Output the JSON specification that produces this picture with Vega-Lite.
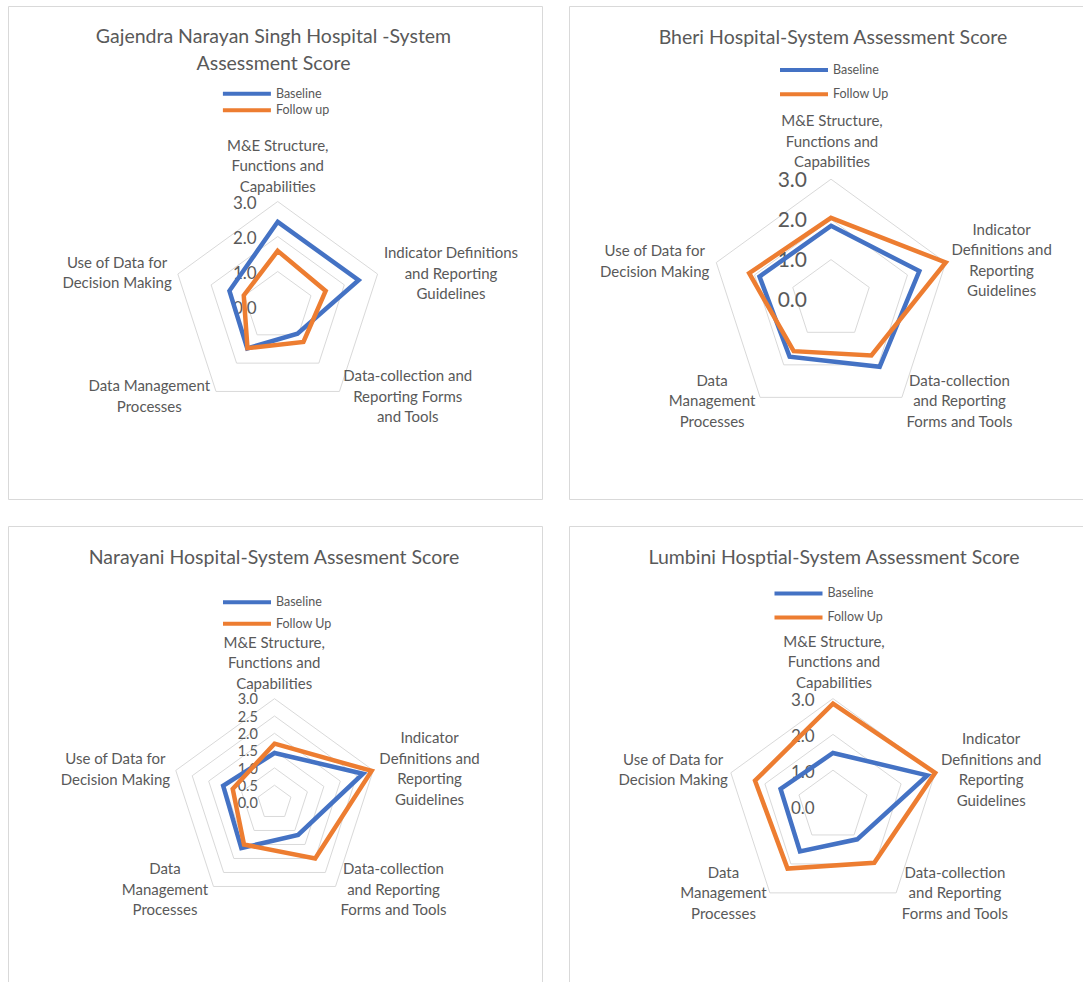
{
  "$schema": "https://vega.github.io/schema/vega-lite/v6.json",
  "padding": {"left": 7, "top": 5, "right": 0, "bottom": 0},
  "background": "white",
  "config": {
    "view": {"stroke": "#D9D9D9", "strokeWidth": 1},
    "title": {"font": "Lato", "fontSize": 19.5, "fontWeight": "normal", "color": "#595959", "anchor": "middle", "frame": "group", "baseline": "top"},
    "text": {"font": "Lato", "color": "#595959"}
  },
  "datasets": {
    "scores": [
      {"hospital": "GNS", "series": "Baseline", "k": 0, "score": 2.42},
      {"hospital": "GNS", "series": "Baseline", "k": 1, "score": 2.43},
      {"hospital": "GNS", "series": "Baseline", "k": 2, "score": 0.96},
      {"hospital": "GNS", "series": "Baseline", "k": 3, "score": 1.48},
      {"hospital": "GNS", "series": "Baseline", "k": 4, "score": 1.45},
      {"hospital": "GNS", "series": "Follow up", "k": 0, "score": 1.59},
      {"hospital": "GNS", "series": "Follow up", "k": 1, "score": 1.44},
      {"hospital": "GNS", "series": "Follow up", "k": 2, "score": 1.25},
      {"hospital": "GNS", "series": "Follow up", "k": 3, "score": 1.47},
      {"hospital": "GNS", "series": "Follow up", "k": 4, "score": 1.02},
      {"hospital": "Bheri", "series": "Baseline", "k": 0, "score": 1.84},
      {"hospital": "Bheri", "series": "Baseline", "k": 1, "score": 2.31},
      {"hospital": "Bheri", "series": "Baseline", "k": 2, "score": 2.06},
      {"hospital": "Bheri", "series": "Baseline", "k": 3, "score": 1.75},
      {"hospital": "Bheri", "series": "Baseline", "k": 4, "score": 1.87},
      {"hospital": "Bheri", "series": "Follow Up", "k": 0, "score": 2.04},
      {"hospital": "Bheri", "series": "Follow Up", "k": 1, "score": 3.0},
      {"hospital": "Bheri", "series": "Follow Up", "k": 2, "score": 1.71},
      {"hospital": "Bheri", "series": "Follow Up", "k": 3, "score": 1.58},
      {"hospital": "Bheri", "series": "Follow Up", "k": 4, "score": 2.14},
      {"hospital": "Narayani", "series": "Baseline", "k": 0, "score": 1.43},
      {"hospital": "Narayani", "series": "Baseline", "k": 1, "score": 2.69},
      {"hospital": "Narayani", "series": "Baseline", "k": 2, "score": 1.16},
      {"hospital": "Narayani", "series": "Baseline", "k": 3, "score": 1.63},
      {"hospital": "Narayani", "series": "Baseline", "k": 4, "score": 1.56},
      {"hospital": "Narayani", "series": "Follow Up", "k": 0, "score": 1.70},
      {"hospital": "Narayani", "series": "Follow Up", "k": 1, "score": 2.95},
      {"hospital": "Narayani", "series": "Follow Up", "k": 2, "score": 2.0},
      {"hospital": "Narayani", "series": "Follow Up", "k": 3, "score": 1.50},
      {"hospital": "Narayani", "series": "Follow Up", "k": 4, "score": 1.27},
      {"hospital": "Lumbini", "series": "Baseline", "k": 0, "score": 1.48},
      {"hospital": "Lumbini", "series": "Baseline", "k": 1, "score": 2.77},
      {"hospital": "Lumbini", "series": "Baseline", "k": 2, "score": 1.15},
      {"hospital": "Lumbini", "series": "Baseline", "k": 3, "score": 1.57},
      {"hospital": "Lumbini", "series": "Baseline", "k": 4, "score": 1.54},
      {"hospital": "Lumbini", "series": "Follow Up", "k": 0, "score": 2.86},
      {"hospital": "Lumbini", "series": "Follow Up", "k": 1, "score": 3.0},
      {"hospital": "Lumbini", "series": "Follow Up", "k": 2, "score": 1.96},
      {"hospital": "Lumbini", "series": "Follow Up", "k": 3, "score": 2.16},
      {"hospital": "Lumbini", "series": "Follow Up", "k": 4, "score": 2.29}
    ],
    "grid": [
      {"level": 0.5, "k": [0, 1, 2, 3, 4]},
      {"level": 1, "k": [0, 1, 2, 3, 4]},
      {"level": 1.5, "k": [0, 1, 2, 3, 4]},
      {"level": 2, "k": [0, 1, 2, 3, 4]},
      {"level": 2.5, "k": [0, 1, 2, 3, 4]},
      {"level": 3, "k": [0, 1, 2, 3, 4]}
    ],
    "ticks": [
      {"level": 0}, {"level": 0.5}, {"level": 1}, {"level": 1.5}, {"level": 2}, {"level": 2.5}, {"level": 3}
    ],
    "labels": [
      {"hospital": "GNS", "k": 0, "label": "M&E Structure,\nFunctions and\nCapabilities"},
      {"hospital": "GNS", "k": 1, "label": "Indicator Definitions\nand Reporting\nGuidelines"},
      {"hospital": "GNS", "k": 2, "label": "Data-collection and\nReporting Forms\nand Tools"},
      {"hospital": "GNS", "k": 3, "label": "Data Management\nProcesses"},
      {"hospital": "GNS", "k": 4, "label": "Use of Data for\nDecision Making"},
      {"hospital": "Bheri", "k": 0, "label": "M&E Structure,\nFunctions and\nCapabilities"},
      {"hospital": "Bheri", "k": 1, "label": "Indicator\nDefinitions and\nReporting\nGuidelines"},
      {"hospital": "Bheri", "k": 2, "label": "Data-collection\nand Reporting\nForms and Tools"},
      {"hospital": "Bheri", "k": 3, "label": "Data\nManagement\nProcesses"},
      {"hospital": "Bheri", "k": 4, "label": "Use of Data for\nDecision Making"},
      {"hospital": "Narayani", "k": 0, "label": "M&E Structure,\nFunctions and\nCapabilities"},
      {"hospital": "Narayani", "k": 1, "label": "Indicator\nDefinitions and\nReporting\nGuidelines"},
      {"hospital": "Narayani", "k": 2, "label": "Data-collection\nand Reporting\nForms and Tools"},
      {"hospital": "Narayani", "k": 3, "label": "Data\nManagement\nProcesses"},
      {"hospital": "Narayani", "k": 4, "label": "Use of Data for\nDecision Making"},
      {"hospital": "Lumbini", "k": 0, "label": "M&E Structure,\nFunctions and\nCapabilities"},
      {"hospital": "Lumbini", "k": 1, "label": "Indicator\nDefinitions and\nReporting\nGuidelines"},
      {"hospital": "Lumbini", "k": 2, "label": "Data-collection\nand Reporting\nForms and Tools"},
      {"hospital": "Lumbini", "k": 3, "label": "Data\nManagement\nProcesses"},
      {"hospital": "Lumbini", "k": 4, "label": "Use of Data for\nDecision Making"}
    ]
  },
  "spacing": 25,
  "resolve": {"scale": {"x": "independent", "y": "independent", "color": "independent"}, "legend": {"color": "independent"}},
  "vconcat": [
    {
      "spacing": 25,
      "resolve": {"scale": {"x": "independent", "y": "independent", "color": "independent"}, "legend": {"color": "independent"}},
      "hconcat": [
        {
          "width": 534, "height": 493,
          "title": {"text": ["Gajendra Narayan Singh Hospital -System", "Assessment Score"], "lineHeight": 26.7, "offset": -68.5, "dx": -1.5},
          "encoding": {
            "x": {"field": "x", "type": "quantitative", "scale": {"domain": [-7.706, 7.551], "nice": false, "zero": false}, "axis": null},
            "y": {"field": "y", "type": "quantitative", "scale": {"domain": [-5.5, 8.586], "nice": false, "zero": false}, "axis": null}
          },
          "layer": [
            {"data": {"name": "grid"}, "transform": [{"flatten": ["k"]}, {"filter": "datum.level % 1 == 0"}, {"calculate": "datum.level*sin(datum.k*2*PI/5)", "as": "x"}, {"calculate": "datum.level*cos(datum.k*2*PI/5)", "as": "y"}],
             "mark": {"type": "line", "interpolate": "linear-closed", "color": "#D9D9D9", "strokeWidth": 1},
             "encoding": {"detail": {"field": "level", "type": "nominal"}, "order": {"field": "k", "type": "quantitative"}}},
            {"data": {"name": "ticks"}, "transform": [{"filter": "datum.level % 1 == 0"}, {"calculate": "0", "as": "x"}, {"calculate": "datum.level", "as": "y"}],
             "mark": {"type": "text", "align": "right", "baseline": "middle", "dx": -21, "dy": 2.6, "fontSize": 17},
             "encoding": {"text": {"field": "level", "type": "quantitative", "format": ".1f"}}},
            {"data": {"name": "scores"}, "transform": [{"filter": "datum.hospital == 'GNS'"}, {"calculate": "datum.score*sin(datum.k*2*PI/5)", "as": "x"}, {"calculate": "datum.score*cos(datum.k*2*PI/5)", "as": "y"}],
             "mark": {"type": "line", "interpolate": "linear-closed", "strokeWidth": 4.5, "strokeJoin": "miter"},
             "encoding": {
               "color": {"field": "series", "type": "nominal", "scale": {"domain": ["Baseline", "Follow up"], "range": ["#4472C4", "#ED7D31"]},
                 "legend": {"orient": "none", "legendX": 230.9, "legendY": 79.7, "title": null, "padding": 0, "symbolType": "M-4,0H4", "symbolSize": 144, "symbolStrokeWidth": 4, "labelOffset": 21, "rowPadding": 0.6, "labelFont": "Lato", "labelFontSize": 12.5, "labelColor": "#595959"}},
               "order": {"field": "k", "type": "quantitative"}}},
            {"data": {"name": "labels"}, "transform": [{"filter": "datum.hospital == 'GNS' && datum.k == 0"}, {"calculate": "3*sin(datum.k*2*PI/5)", "as": "x"}, {"calculate": "3*cos(datum.k*2*PI/5)", "as": "y"}],
             "mark": {"type": "text", "align": "center", "baseline": "middle", "lineBreak": "\n", "lineHeight": 20.5, "fontSize": 15, "dx": 0, "dy": -55.9},
             "encoding": {"text": {"field": "label", "type": "nominal"}}},
            {"data": {"name": "labels"}, "transform": [{"filter": "datum.hospital == 'GNS' && datum.k == 1"}, {"calculate": "3*sin(datum.k*2*PI/5)", "as": "x"}, {"calculate": "3*cos(datum.k*2*PI/5)", "as": "y"}],
             "mark": {"type": "text", "align": "center", "baseline": "middle", "lineBreak": "\n", "lineHeight": 20.5, "fontSize": 15, "dx": 73.4, "dy": -20.9},
             "encoding": {"text": {"field": "label", "type": "nominal"}}},
            {"data": {"name": "labels"}, "transform": [{"filter": "datum.hospital == 'GNS' && datum.k == 2"}, {"calculate": "3*sin(datum.k*2*PI/5)", "as": "x"}, {"calculate": "3*cos(datum.k*2*PI/5)", "as": "y"}],
             "mark": {"type": "text", "align": "center", "baseline": "middle", "lineBreak": "\n", "lineHeight": 20.5, "fontSize": 15, "dx": 68.3, "dy": -15.2},
             "encoding": {"text": {"field": "label", "type": "nominal"}}},
            {"data": {"name": "labels"}, "transform": [{"filter": "datum.hospital == 'GNS' && datum.k == 3"}, {"calculate": "3*sin(datum.k*2*PI/5)", "as": "x"}, {"calculate": "3*cos(datum.k*2*PI/5)", "as": "y"}],
             "mark": {"type": "text", "align": "center", "baseline": "middle", "lineBreak": "\n", "lineHeight": 20.5, "fontSize": 15, "dx": -66.7, "dy": -4.95},
             "encoding": {"text": {"field": "label", "type": "nominal"}}},
            {"data": {"name": "labels"}, "transform": [{"filter": "datum.hospital == 'GNS' && datum.k == 4"}, {"calculate": "3*sin(datum.k*2*PI/5)", "as": "x"}, {"calculate": "3*cos(datum.k*2*PI/5)", "as": "y"}],
             "mark": {"type": "text", "align": "center", "baseline": "middle", "lineBreak": "\n", "lineHeight": 20.5, "fontSize": 15, "dx": -60.8, "dy": -11.15},
             "encoding": {"text": {"field": "label", "type": "nominal"}}}
          ]
        },
        {
          "width": 516, "height": 493,
          "title": {"text": "Bheri Hospital-System Assessment Score", "offset": -42, "dx": 6},
          "encoding": {
            "x": {"field": "x", "type": "quantitative", "scale": {"domain": [-6.517, 6.318], "nice": false, "zero": false}, "axis": null},
            "y": {"field": "y", "type": "quantitative", "scale": {"domain": [-4.955, 7.308], "nice": false, "zero": false}, "axis": null}
          },
          "layer": [
            {"data": {"name": "grid"}, "transform": [{"flatten": ["k"]}, {"filter": "datum.level % 1 == 0"}, {"calculate": "datum.level*sin(datum.k*2*PI/5)", "as": "x"}, {"calculate": "datum.level*cos(datum.k*2*PI/5)", "as": "y"}],
             "mark": {"type": "line", "interpolate": "linear-closed", "color": "#D9D9D9", "strokeWidth": 1},
             "encoding": {"detail": {"field": "level", "type": "nominal"}, "order": {"field": "k", "type": "quantitative"}}},
            {"data": {"name": "ticks"}, "transform": [{"filter": "datum.level % 1 == 0"}, {"calculate": "0", "as": "x"}, {"calculate": "datum.level", "as": "y"}],
             "mark": {"type": "text", "align": "right", "baseline": "middle", "dx": -24, "dy": 1.7, "fontSize": 21},
             "encoding": {"text": {"field": "level", "type": "quantitative", "format": ".1f"}}},
            {"data": {"name": "scores"}, "transform": [{"filter": "datum.hospital == 'Bheri'"}, {"calculate": "datum.score*sin(datum.k*2*PI/5)", "as": "x"}, {"calculate": "datum.score*cos(datum.k*2*PI/5)", "as": "y"}],
             "mark": {"type": "line", "interpolate": "linear-closed", "strokeWidth": 4.5, "strokeJoin": "miter"},
             "encoding": {
               "color": {"field": "series", "type": "nominal", "scale": {"domain": ["Baseline", "Follow Up"], "range": ["#4472C4", "#ED7D31"]},
                 "legend": {"orient": "none", "legendX": 227, "legendY": 56, "title": null, "padding": 0, "symbolType": "M-4,0H4", "symbolSize": 144, "symbolStrokeWidth": 4, "labelOffset": 21, "rowPadding": 8.3, "labelFont": "Lato", "labelFontSize": 12.5, "labelColor": "#595959"}},
               "order": {"field": "k", "type": "quantitative"}}},
            {"data": {"name": "labels"}, "transform": [{"filter": "datum.hospital == 'Bheri' && datum.k == 0"}, {"calculate": "3*sin(datum.k*2*PI/5)", "as": "x"}, {"calculate": "3*cos(datum.k*2*PI/5)", "as": "y"}],
             "mark": {"type": "text", "align": "center", "baseline": "middle", "lineBreak": "\n", "lineHeight": 20.5, "fontSize": 15, "dx": 1, "dy": -58.1},
             "encoding": {"text": {"field": "label", "type": "nominal"}}},
            {"data": {"name": "labels"}, "transform": [{"filter": "datum.hospital == 'Bheri' && datum.k == 1"}, {"calculate": "3*sin(datum.k*2*PI/5)", "as": "x"}, {"calculate": "3*cos(datum.k*2*PI/5)", "as": "y"}],
             "mark": {"type": "text", "align": "center", "baseline": "middle", "lineBreak": "\n", "lineHeight": 20.5, "fontSize": 15, "dx": 55.9, "dy": -32.65},
             "encoding": {"text": {"field": "label", "type": "nominal"}}},
            {"data": {"name": "labels"}, "transform": [{"filter": "datum.hospital == 'Bheri' && datum.k == 2"}, {"calculate": "3*sin(datum.k*2*PI/5)", "as": "x"}, {"calculate": "3*cos(datum.k*2*PI/5)", "as": "y"}],
             "mark": {"type": "text", "align": "center", "baseline": "middle", "lineBreak": "\n", "lineHeight": 20.5, "fontSize": 15, "dx": 57.6, "dy": -16.5},
             "encoding": {"text": {"field": "label", "type": "nominal"}}},
            {"data": {"name": "labels"}, "transform": [{"filter": "datum.hospital == 'Bheri' && datum.k == 3"}, {"calculate": "3*sin(datum.k*2*PI/5)", "as": "x"}, {"calculate": "3*cos(datum.k*2*PI/5)", "as": "y"}],
             "mark": {"type": "text", "align": "center", "baseline": "middle", "lineBreak": "\n", "lineHeight": 20.5, "fontSize": 15, "dx": -48, "dy": -16.5},
             "encoding": {"text": {"field": "label", "type": "nominal"}}},
            {"data": {"name": "labels"}, "transform": [{"filter": "datum.hospital == 'Bheri' && datum.k == 4"}, {"calculate": "3*sin(datum.k*2*PI/5)", "as": "x"}, {"calculate": "3*cos(datum.k*2*PI/5)", "as": "y"}],
             "mark": {"type": "text", "align": "center", "baseline": "middle", "lineBreak": "\n", "lineHeight": 20.5, "fontSize": 15, "dx": -61.6, "dy": -11.45},
             "encoding": {"text": {"field": "label", "type": "nominal"}}}
          ]
        }
      ]
    },
    {
      "spacing": 25,
      "resolve": {"scale": {"x": "independent", "y": "independent", "color": "independent"}, "legend": {"color": "independent"}},
      "hconcat": [
        {
          "width": 534, "height": 458,
          "title": {"text": "Narayani Hospital-System Assesment Score", "offset": -42, "dx": -1},
          "encoding": {
            "x": {"field": "x", "type": "quantitative", "scale": {"domain": [-7.702, 7.731], "nice": false, "zero": false}, "axis": null},
            "y": {"field": "y", "type": "quantitative", "scale": {"domain": [-5.246, 7.991], "nice": false, "zero": false}, "axis": null}
          },
          "layer": [
            {"data": {"name": "grid"}, "transform": [{"flatten": ["k"]}, {"calculate": "datum.level*sin(datum.k*2*PI/5)", "as": "x"}, {"calculate": "datum.level*cos(datum.k*2*PI/5)", "as": "y"}],
             "mark": {"type": "line", "interpolate": "linear-closed", "color": "#D9D9D9", "strokeWidth": 1},
             "encoding": {"detail": {"field": "level", "type": "nominal"}, "order": {"field": "k", "type": "quantitative"}}},
            {"data": {"name": "ticks"}, "transform": [{"calculate": "0", "as": "x"}, {"calculate": "datum.level", "as": "y"}],
             "mark": {"type": "text", "align": "right", "baseline": "middle", "dx": -16.6, "dy": 1.7, "fontSize": 14.5},
             "encoding": {"text": {"field": "level", "type": "quantitative", "format": ".1f"}}},
            {"data": {"name": "scores"}, "transform": [{"filter": "datum.hospital == 'Narayani'"}, {"calculate": "datum.score*sin(datum.k*2*PI/5)", "as": "x"}, {"calculate": "datum.score*cos(datum.k*2*PI/5)", "as": "y"}],
             "mark": {"type": "line", "interpolate": "linear-closed", "strokeWidth": 4.5, "strokeJoin": "miter"},
             "encoding": {
               "color": {"field": "series", "type": "nominal", "scale": {"domain": ["Baseline", "Follow Up"], "range": ["#4472C4", "#ED7D31"]},
                 "legend": {"orient": "none", "legendX": 231, "legendY": 68.2, "title": null, "padding": 0, "symbolType": "M-4,0H4", "symbolSize": 144, "symbolStrokeWidth": 4, "labelOffset": 21, "rowPadding": 5.6, "labelFont": "Lato", "labelFontSize": 12.5, "labelColor": "#595959"}},
               "order": {"field": "k", "type": "quantitative"}}},
            {"data": {"name": "labels"}, "transform": [{"filter": "datum.hospital == 'Narayani' && datum.k == 0"}, {"calculate": "3*sin(datum.k*2*PI/5)", "as": "x"}, {"calculate": "3*cos(datum.k*2*PI/5)", "as": "y"}],
             "mark": {"type": "text", "align": "center", "baseline": "middle", "lineBreak": "\n", "lineHeight": 20.5, "fontSize": 15, "dx": -0.3, "dy": -55.8},
             "encoding": {"text": {"field": "label", "type": "nominal"}}},
            {"data": {"name": "labels"}, "transform": [{"filter": "datum.hospital == 'Narayani' && datum.k == 1"}, {"calculate": "3*sin(datum.k*2*PI/5)", "as": "x"}, {"calculate": "3*cos(datum.k*2*PI/5)", "as": "y"}],
             "mark": {"type": "text", "align": "center", "baseline": "middle", "lineBreak": "\n", "lineHeight": 20.5, "fontSize": 15, "dx": 56.3, "dy": -31.95},
             "encoding": {"text": {"field": "label", "type": "nominal"}}},
            {"data": {"name": "labels"}, "transform": [{"filter": "datum.hospital == 'Narayani' && datum.k == 2"}, {"calculate": "3*sin(datum.k*2*PI/5)", "as": "x"}, {"calculate": "3*cos(datum.k*2*PI/5)", "as": "y"}],
             "mark": {"type": "text", "align": "center", "baseline": "middle", "lineBreak": "\n", "lineHeight": 20.5, "fontSize": 15, "dx": 58, "dy": -17.1},
             "encoding": {"text": {"field": "label", "type": "nominal"}}},
            {"data": {"name": "labels"}, "transform": [{"filter": "datum.hospital == 'Narayani' && datum.k == 3"}, {"calculate": "3*sin(datum.k*2*PI/5)", "as": "x"}, {"calculate": "3*cos(datum.k*2*PI/5)", "as": "y"}],
             "mark": {"type": "text", "align": "center", "baseline": "middle", "lineBreak": "\n", "lineHeight": 20.5, "fontSize": 15, "dx": -48.5, "dy": -17.1},
             "encoding": {"text": {"field": "label", "type": "nominal"}}},
            {"data": {"name": "labels"}, "transform": [{"filter": "datum.hospital == 'Narayani' && datum.k == 4"}, {"calculate": "3*sin(datum.k*2*PI/5)", "as": "x"}, {"calculate": "3*cos(datum.k*2*PI/5)", "as": "y"}],
             "mark": {"type": "text", "align": "center", "baseline": "middle", "lineBreak": "\n", "lineHeight": 20.5, "fontSize": 15, "dx": -60.4, "dy": -10.95},
             "encoding": {"text": {"field": "label", "type": "nominal"}}}
          ]
        },
        {
          "width": 516, "height": 458,
          "title": {"text": "Lumbini Hosptial-System Assessment Score", "offset": -42, "dx": 7},
          "encoding": {
            "x": {"field": "x", "type": "quantitative", "scale": {"domain": [-7.374, 7.039], "nice": false, "zero": false}, "axis": null},
            "y": {"field": "y", "type": "quantitative", "scale": {"domain": [-4.972, 7.821], "nice": false, "zero": false}, "axis": null}
          },
          "layer": [
            {"data": {"name": "grid"}, "transform": [{"flatten": ["k"]}, {"filter": "datum.level % 1 == 0"}, {"calculate": "datum.level*sin(datum.k*2*PI/5)", "as": "x"}, {"calculate": "datum.level*cos(datum.k*2*PI/5)", "as": "y"}],
             "mark": {"type": "line", "interpolate": "linear-closed", "color": "#D9D9D9", "strokeWidth": 1},
             "encoding": {"detail": {"field": "level", "type": "nominal"}, "order": {"field": "k", "type": "quantitative"}}},
            {"data": {"name": "ticks"}, "transform": [{"filter": "datum.level % 1 == 0"}, {"calculate": "0", "as": "x"}, {"calculate": "datum.level", "as": "y"}],
             "mark": {"type": "text", "align": "right", "baseline": "middle", "dx": -18.3, "dy": 2.7, "fontSize": 17},
             "encoding": {"text": {"field": "level", "type": "quantitative", "format": ".1f"}}},
            {"data": {"name": "scores"}, "transform": [{"filter": "datum.hospital == 'Lumbini'"}, {"calculate": "datum.score*sin(datum.k*2*PI/5)", "as": "x"}, {"calculate": "datum.score*cos(datum.k*2*PI/5)", "as": "y"}],
             "mark": {"type": "line", "interpolate": "linear-closed", "strokeWidth": 4.5, "strokeJoin": "miter"},
             "encoding": {
               "color": {"field": "series", "type": "nominal", "scale": {"domain": ["Baseline", "Follow Up"], "range": ["#4472C4", "#ED7D31"]},
                 "legend": {"orient": "none", "legendX": 221.5, "legendY": 59.4, "title": null, "padding": 0, "symbolType": "M-4,0H4", "symbolSize": 144, "symbolStrokeWidth": 4, "labelOffset": 21, "rowPadding": 8, "labelFont": "Lato", "labelFontSize": 12.5, "labelColor": "#595959"}},
               "order": {"field": "k", "type": "quantitative"}}},
            {"data": {"name": "labels"}, "transform": [{"filter": "datum.hospital == 'Lumbini' && datum.k == 0"}, {"calculate": "3*sin(datum.k*2*PI/5)", "as": "x"}, {"calculate": "3*cos(datum.k*2*PI/5)", "as": "y"}],
             "mark": {"type": "text", "align": "center", "baseline": "middle", "lineBreak": "\n", "lineHeight": 20.5, "fontSize": 15, "dx": 1, "dy": -56.9},
             "encoding": {"text": {"field": "label", "type": "nominal"}}},
            {"data": {"name": "labels"}, "transform": [{"filter": "datum.hospital == 'Lumbini' && datum.k == 1"}, {"calculate": "3*sin(datum.k*2*PI/5)", "as": "x"}, {"calculate": "3*cos(datum.k*2*PI/5)", "as": "y"}],
             "mark": {"type": "text", "align": "center", "baseline": "middle", "lineBreak": "\n", "lineHeight": 20.5, "fontSize": 15, "dx": 56, "dy": -33.65},
             "encoding": {"text": {"field": "label", "type": "nominal"}}},
            {"data": {"name": "labels"}, "transform": [{"filter": "datum.hospital == 'Lumbini' && datum.k == 2"}, {"calculate": "3*sin(datum.k*2*PI/5)", "as": "x"}, {"calculate": "3*cos(datum.k*2*PI/5)", "as": "y"}],
             "mark": {"type": "text", "align": "center", "baseline": "middle", "lineBreak": "\n", "lineHeight": 20.5, "fontSize": 15, "dx": 58.8, "dy": -19.9},
             "encoding": {"text": {"field": "label", "type": "nominal"}}},
            {"data": {"name": "labels"}, "transform": [{"filter": "datum.hospital == 'Lumbini' && datum.k == 3"}, {"calculate": "3*sin(datum.k*2*PI/5)", "as": "x"}, {"calculate": "3*cos(datum.k*2*PI/5)", "as": "y"}],
             "mark": {"type": "text", "align": "center", "baseline": "middle", "lineBreak": "\n", "lineHeight": 20.5, "fontSize": 15, "dx": -46.4, "dy": -19.9},
             "encoding": {"text": {"field": "label", "type": "nominal"}}},
            {"data": {"name": "labels"}, "transform": [{"filter": "datum.hospital == 'Lumbini' && datum.k == 4"}, {"calculate": "3*sin(datum.k*2*PI/5)", "as": "x"}, {"calculate": "3*cos(datum.k*2*PI/5)", "as": "y"}],
             "mark": {"type": "text", "align": "center", "baseline": "middle", "lineBreak": "\n", "lineHeight": 20.5, "fontSize": 15, "dx": -57.7, "dy": -12.85},
             "encoding": {"text": {"field": "label", "type": "nominal"}}}
          ]
        }
      ]
    }
  ]
}
